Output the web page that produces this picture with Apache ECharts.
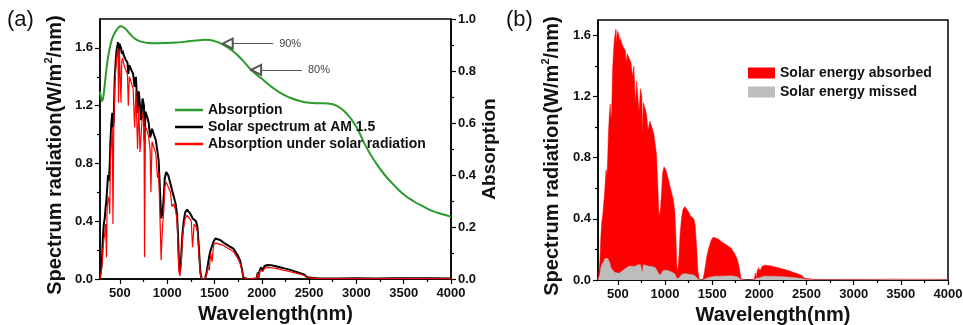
<!DOCTYPE html>
<html>
<head>
<meta charset="utf-8">
<script src="https://cdn.jsdelivr.net/npm/echarts@6/dist/echarts.min.js"></script>
<style>
  html, body { margin: 0; padding: 0; background: #fff; }
  #chart { width: 963px; height: 325px; }
</style>
</head>
<body>
<div id="chart"></div>
<script>
// wavelength grid (nm) shared by the spectrum curves
const wavelength = [
  290, 300, 310, 320, 330, 340, 350, 358, 365, 375,
  385, 393, 400, 410, 420, 427, 435, 445, 455, 465,
  475, 480, 486, 495, 505, 512, 520, 530, 540, 550,
  560, 570, 580, 589, 600, 620, 640, 656, 670, 687,
  700, 713, 725, 740, 755, 761, 770, 790, 805, 820,
  828, 840, 860, 880, 898, 910, 925, 936, 950, 962,
  975, 990, 1010, 1035, 1050, 1070, 1090, 1105, 1115, 1125,
  1135, 1148, 1160, 1175, 1190, 1210, 1235, 1255, 1268, 1285,
  1305, 1320, 1335, 1350, 1365, 1400, 1415, 1430, 1445, 1460,
  1475, 1490, 1510, 1530, 1560, 1600, 1650, 1700, 1740, 1770,
  1790, 1805, 1850, 1900, 1945, 1958, 1966, 1978, 1992, 2008,
  2030, 2060, 2100, 2150, 2200, 2250, 2300, 2350, 2400, 2450,
  2480, 2500, 2600, 2800, 3000, 3200, 3400, 3600, 3800, 4000
];

// solar spectrum at AM 1.5 (W/m2/nm)
const solar = [
  0, 0.01, 0.12, 0.28, 0.38, 0.42, 0.5, 0.55, 0.62, 0.72,
  0.68, 0.8, 0.95, 1.08, 1.15, 1.05, 1.1, 1.38, 1.5, 1.58,
  1.62, 1.64, 1.55, 1.63, 1.62, 1.6, 1.56, 1.58, 1.55, 1.54,
  1.52, 1.52, 1.5, 1.42, 1.48, 1.45, 1.42, 1.33, 1.4, 1.15,
  1.3, 1.2, 1.1, 1.25, 1.2, 0.95, 1.16, 1.12, 1.08, 0.98,
  1.0, 1.04, 1.0, 0.96, 0.88, 0.82, 0.6, 0.42, 0.45, 0.55,
  0.7, 0.74, 0.72, 0.66, 0.62, 0.57, 0.52, 0.44, 0.3, 0.1,
  0.05, 0.15, 0.3, 0.4, 0.46, 0.48, 0.46, 0.44, 0.42, 0.42,
  0.4, 0.36, 0.22, 0.05, 0, 0, 0.04, 0.1, 0.16, 0.2,
  0.23, 0.26, 0.28, 0.28, 0.27, 0.25, 0.23, 0.21, 0.17, 0.13,
  0.07, 0.01, 0, 0, 0.005, 0.045, 0.01, 0.06, 0.08, 0.06,
  0.09, 0.097, 0.095, 0.088, 0.08, 0.072, 0.063, 0.052, 0.042, 0.03,
  0.012, 0.003, 0.004, 0.003, 0.005, 0.004, 0.006, 0.005, 0.005, 0.004
];

// absorption under solar radiation
const absorbed = [
  0, 0.007, 0.08, 0.2, 0.27, 0.31, 0.38, 0.15, 0.48, 0.57,
  0.54, 0.45, 0.82, 0.96, 1.05, 0.38, 1.02, 1.31, 1.44, 1.53,
  1.57, 1.6, 1.22, 1.58, 1.57, 1.22, 1.51, 1.53, 1.49, 1.48,
  1.45, 1.45, 1.42, 1.2, 1.4, 1.36, 1.32, 1.05, 1.3, 0.9,
  1.2, 0.88, 1.0, 1.15, 1.1, 0.15, 1.06, 1.02, 0.98, 0.89,
  0.6, 0.95, 0.91, 0.87, 0.7, 0.74, 0.4, 0.13, 0.36, 0.45,
  0.64, 0.67, 0.66, 0.6, 0.5, 0.52, 0.47, 0.4, 0.22, 0.05,
  0.02, 0.1, 0.27, 0.36, 0.42, 0.44, 0.42, 0.4, 0.22, 0.38,
  0.36, 0.33, 0.18, 0.03, 0, 0, 0.03, 0.08, 0.06, 0.18,
  0.12, 0.23, 0.25, 0.26, 0.24, 0.23, 0.21, 0.19, 0.15, 0.11,
  0.06, 0.01, 0, 0, 0.004, 0.04, 0.01, 0.05, 0.065, 0.05,
  0.075, 0.08, 0.078, 0.073, 0.065, 0.058, 0.05, 0.042, 0.034, 0.024,
  0.01, 0.003, 0.003, 0.002, 0.003, 0.003, 0.003, 0.002, 0.002, 0.001
];

// solar energy missed (panel b, grey)
const missed = [
  0, 0.003, 0.035, 0.08, 0.1, 0.11, 0.12, 0.13, 0.14, 0.15,
  0.14, 0.14, 0.13, 0.12, 0.1, 0.08, 0.075, 0.065, 0.055, 0.05,
  0.048, 0.046, 0.044, 0.045, 0.045, 0.045, 0.046, 0.05, 0.055, 0.06,
  0.065, 0.07, 0.075, 0.075, 0.08, 0.09, 0.095, 0.09, 0.1, 0.09,
  0.1, 0.1, 0.095, 0.1, 0.1, 0.04, 0.1, 0.1, 0.095, 0.09,
  0.09, 0.092, 0.088, 0.085, 0.08, 0.078, 0.05, 0.035, 0.03, 0.04,
  0.06, 0.065, 0.063, 0.06, 0.056, 0.052, 0.048, 0.04, 0.028, 0.01,
  0.005, 0.012, 0.025, 0.035, 0.04, 0.042, 0.04, 0.038, 0.036, 0.035,
  0.033, 0.03, 0.018, 0.004, 0, 0, 0.003, 0.008, 0.013, 0.016,
  0.018, 0.02, 0.022, 0.024, 0.024, 0.025, 0.026, 0.027, 0.025, 0.02,
  0.012, 0.002, 0, 0, 0.001, 0.009, 0.002, 0.013, 0.018, 0.014,
  0.022, 0.025, 0.025, 0.024, 0.023, 0.021, 0.019, 0.016, 0.013, 0.01,
  0.004, 0.001, 0.001, 0.001, 0.002, 0.002, 0.004, 0.003, 0.004, 0.003
];

// absorption of the absorber (right axis of panel a)
const absWl = [
  290, 300, 310, 320, 335, 350, 370, 400, 430, 470,
  510, 550, 600, 650, 700, 800, 900, 1000, 1100, 1200,
  1300, 1400, 1500, 1600, 1700, 1800, 1900, 2000, 2100, 2200,
  2300, 2400, 2500, 2600, 2700, 2800, 2900, 3000, 3100, 3200,
  3300, 3400, 3500, 3600, 3700, 3800, 3900, 4000
];
const absorption = [
  0.72, 0.7, 0.685, 0.69, 0.73, 0.78, 0.84, 0.9, 0.935, 0.96,
  0.972, 0.965, 0.945, 0.927, 0.916, 0.908, 0.907, 0.908, 0.91, 0.913,
  0.917, 0.92, 0.915, 0.9, 0.875, 0.84, 0.8, 0.77, 0.74, 0.715,
  0.697, 0.685, 0.678, 0.676, 0.675, 0.665, 0.635, 0.585, 0.51, 0.45,
  0.4, 0.36, 0.325, 0.3, 0.28, 0.262, 0.25, 0.24
];

// tick positions
const xMajor = [500, 1000, 1500, 2000, 2500, 3000, 3500, 4000];
const xMinor = [750, 1250, 1750, 2250, 2750, 3250, 3750];
const ySpecMajor = [0, 0.4, 0.8, 1.2, 1.6];
const ySpecMinor = [0.2, 0.6, 1.0, 1.4];
const yAbsMajor = [0, 0.2, 0.4, 0.6, 0.8, 1.0];
const yAbsMinor = [0.1, 0.3, 0.5, 0.7, 0.9];

// arrows pointing at the absorption curve: [from nm, to nm, level, text]
const arrows = [
  [2120, 1640, 0.905, '90%'],
  [2425, 1940, 0.804, '80%']
];

const FONT = 'Liberation Sans';
const pair = (xs, ys) => xs.map((x, i) => [x, ys[i]]);

function xAxisPair(grid) {
  const base = { type: 'value', gridIndex: grid, min: 290, max: 4000, splitLine: { show: false } };
  return [
    Object.assign({}, base, {
      name: 'Wavelength(nm)', nameLocation: 'middle', nameGap: 24,
      nameTextStyle: { fontFamily: FONT, fontWeight: 'bold', fontSize: 20, color: '#111' },
      axisLine: { lineStyle: { color: '#000', width: 1.5 } },
      axisTick: { length: 5, customValues: xMajor, lineStyle: { color: '#000', width: 1.2 } },
      axisLabel: { customValues: xMajor, margin: 8, formatter: v => String(v), fontFamily: FONT, fontWeight: 'bold', fontSize: 13, color: '#111' }
    }),
    Object.assign({}, base, {
      position: 'bottom', offset: 0,
      axisLine: { show: false },
      axisTick: { length: 3, customValues: xMinor, lineStyle: { color: '#000', width: 1.2 } },
      axisLabel: { show: false }
    })
  ];
}

function yAxisPair(grid, pos, max, major, minor, name, gap, size, pad) {
  const base = { type: 'value', gridIndex: grid, min: 0, max: max, position: pos, offset: 0, splitLine: { show: false } };
  const main = Object.assign({}, base, {
    axisLine: { show: true, lineStyle: { color: '#000', width: 1.5 } },
    axisTick: { length: 5, customValues: major, lineStyle: { color: '#000', width: 1.2 } },
    axisLabel: { customValues: major, margin: 7, formatter: v => v.toFixed(1), fontFamily: FONT, fontWeight: 'bold', fontSize: 13, color: '#111' },
    name: name, nameLocation: 'middle', nameGap: gap, nameRotate: 90,
    nameTextStyle: {
      fontFamily: FONT, fontWeight: 'bold', fontSize: size, color: '#111', padding: pad,
      rich: { s: { fontFamily: FONT, fontWeight: 'bold', fontSize: 11, color: '#111', padding: [0, 0, 13, 0] } }
    }
  });
  return [
    main,
    Object.assign({}, base, {
      axisLine: { show: false },
      axisTick: { length: 3, customValues: minor, lineStyle: { color: '#000', width: 1.2 } },
      axisLabel: { show: false }
    })
  ];
}

const chart = echarts.init(document.getElementById('chart'), null, { renderer: 'canvas' });

const option = {
  animation: false,
  backgroundColor: '#fff',
  title: [
    { text: '(a)', left: 7, top: 9, padding: 0, textStyle: { fontFamily: FONT, fontWeight: 'normal', fontSize: 22, color: '#111' } },
    { text: '(b)', left: 506, top: 9, padding: 0, textStyle: { fontFamily: FONT, fontWeight: 'normal', fontSize: 22, color: '#111' } }
  ],
  grid: [
    { left: 100, top: 19, right: 512, bottom: 46, outerBoundsMode: 'none', show: true, borderColor: '#000', borderWidth: 1.5 },
    { left: 598, top: 20, right: 15, bottom: 45, outerBoundsMode: 'none', show: true, borderColor: '#000', borderWidth: 1.5 }
  ],
  legend: [
    {
      orient: 'vertical', left: 170, top: 98, itemWidth: 28, itemHeight: 2.5, itemGap: 3, icon: 'rect',
      data: ['Absorption', 'Solar spectrum at AM 1.5', 'Absorption under solar radiation'],
      textStyle: { fontFamily: FONT, fontWeight: 'bold', fontSize: 14, color: '#111' }
    },
    {
      orient: 'vertical', left: 743, top: 61, itemWidth: 27, itemHeight: 11, itemGap: 5, icon: 'rect',
      data: ['Solar energy absorbed', 'Solar energy missed'],
      textStyle: { fontFamily: FONT, fontWeight: 'bold', fontSize: 14, color: '#111' }
    }
  ],
  xAxis: [].concat(xAxisPair(0), xAxisPair(1)),
  yAxis: [].concat(
    yAxisPair(0, 'left', 1.8, ySpecMajor, ySpecMinor, 'Spectrum radiation(W/m{s|2}/nm)', 33, 20, [0, 12, 0, 0]),
    yAxisPair(0, 'right', 1.0, yAbsMajor, yAbsMinor, 'Absorption', 29, 19, 0),
    yAxisPair(1, 'left', 1.7, ySpecMajor, ySpecMinor, 'Spectrum radiation(W/m{s|2}/nm)', 34, 20, [0, 12, 0, 0])
  ),
  series: [
    {
      name: 'Solar spectrum at AM 1.5', type: 'line', xAxisIndex: 0, yAxisIndex: 0,
      data: pair(wavelength, solar), showSymbol: false, symbol: 'none',
      lineStyle: { color: '#000', width: 2 }, itemStyle: { color: '#000' }
    },
    {
      name: 'Absorption under solar radiation', type: 'line', xAxisIndex: 0, yAxisIndex: 0,
      data: pair(wavelength, absorbed), showSymbol: false, symbol: 'none',
      lineStyle: { color: '#ff0000', width: 1.2 }, itemStyle: { color: '#ff0000' }
    },
    {
      name: 'Absorption', type: 'line', xAxisIndex: 0, yAxisIndex: 2, smooth: true,
      data: pair(absWl, absorption), showSymbol: false, symbol: 'none',
      lineStyle: { color: '#2a9a2a', width: 2 }, itemStyle: { color: '#2a9a2a' },
      markLine: {
        silent: true, symbol: ['none', 'emptyTriangle'], symbolSize: 10,
        lineStyle: { color: '#555', width: 1.2, type: 'solid' },
        label: { show: true, position: 'start', distance: 6, fontFamily: FONT, fontSize: 11, color: '#444' },
        data: arrows.map(a => [
          { coord: [a[0], a[2]], label: { formatter: a[3] } },
          { coord: [a[1], a[2]] }
        ])
      }
    },
    {
      name: 'Solar energy absorbed', type: 'line', xAxisIndex: 2, yAxisIndex: 4,
      data: pair(wavelength, solar), showSymbol: false, symbol: 'none',
      lineStyle: { color: '#ff0000', width: 0.5 }, itemStyle: { color: '#ff0000' },
      areaStyle: { color: '#ff0000', opacity: 1 }
    },
    {
      name: 'Solar energy missed', type: 'line', xAxisIndex: 2, yAxisIndex: 4,
      data: pair(wavelength, missed), showSymbol: false, symbol: 'none',
      lineStyle: { color: '#bdbdbd', width: 0.5 }, itemStyle: { color: '#bdbdbd' },
      areaStyle: { color: '#bdbdbd', opacity: 1 }
    }
  ]
};

chart.setOption(option);
</script>
</body>
</html>
